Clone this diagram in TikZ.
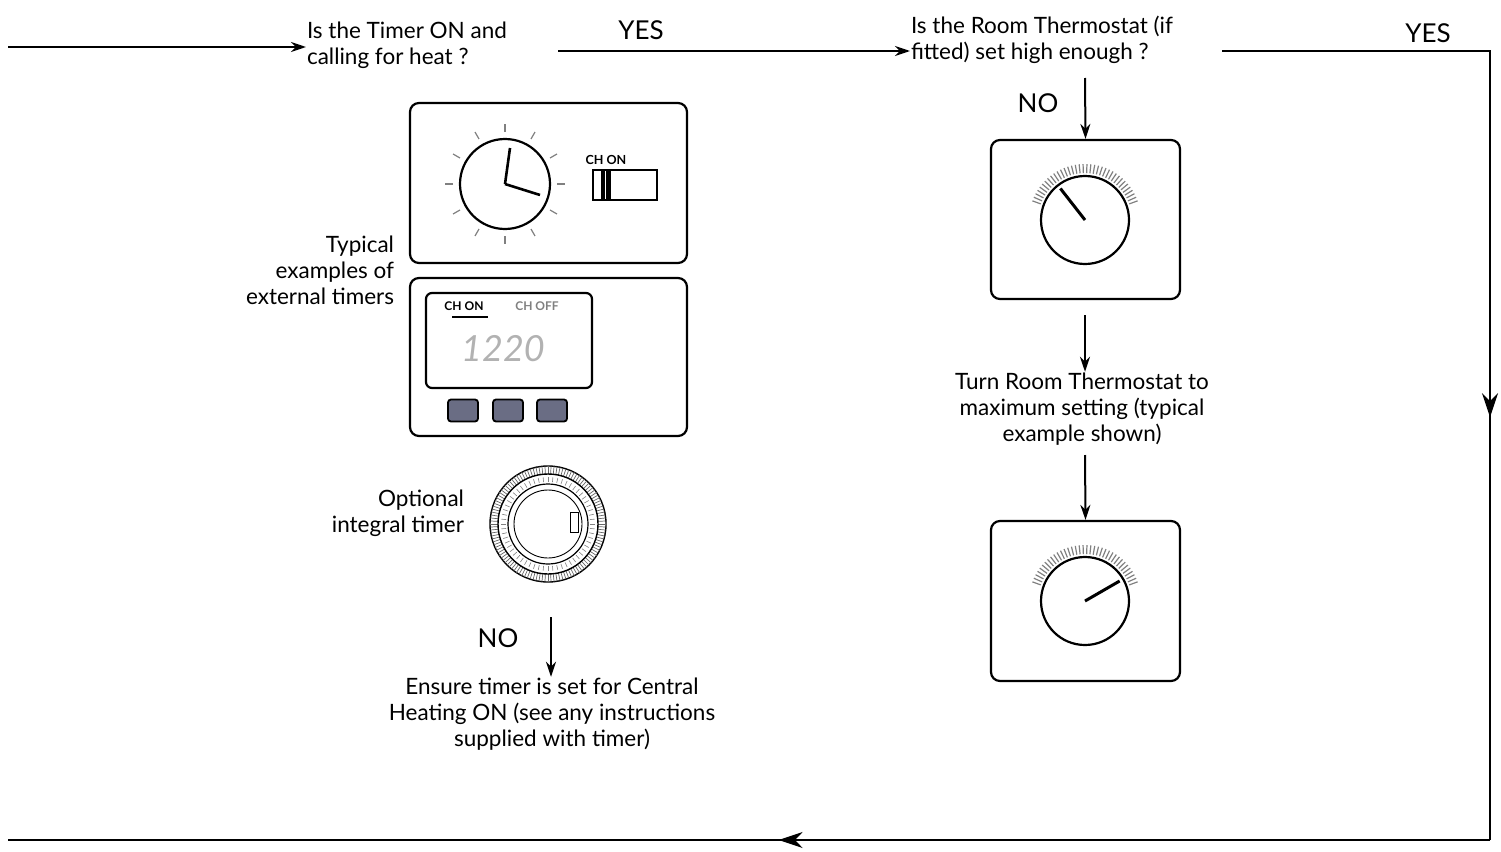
\documentclass[tikz,border=0pt]{standalone}
\usepackage{fontspec}
\setmainfont{Lato}
\usetikzlibrary{arrows.meta,decorations.markings}
\definecolor{btn}{HTML}{6A6D84}
\begin{document}
\begin{tikzpicture}[x=1pt,y=-1pt,font=\fontsize{22.5}{26}\selectfont,
  line width=2pt,
  arr/.style={-{Stealth[length=15pt,width=10pt]}},
  mid/.style={postaction={decorate},decoration={markings,mark=at position #1 with {\arrow{Stealth[length=24pt,width=16pt]}}}},
  txt/.style={inner sep=0pt,align=left,anchor=west},
  big/.style={font=\fontsize{26}{28}\selectfont},
  box/.style={draw,rounded corners=9pt,line width=2.2pt},
  dial/.style={draw,line width=2.2pt}]
\useasboundingbox (0,0) rectangle (1501,851);
% top flow
\coordinate (s) at (8,47);
\node[txt] (q1) at (306,45) {Is the Timer ON and\\calling for heat ?};
\draw[arr] (s) -- (q1.west |- s);
\coordinate (y1a) at (558,51);
\node[txt] (q2) at (910,40) {Is the Room Thermostat (if\\fitted) set high enough ?};
\draw[arr] (y1a) -- (q2.west |- y1a);
\node[big] (yes1) at (641,30) {YES};
\node[big] (yes2) at (1428,33) {YES};
\coordinate (c1) at (1222,51);
\coordinate (c2) at (1490,51);
\coordinate (c3) at (1490,840);
\coordinate (c4) at (8,840);
\draw[mid=0.6] (c1) -- (c2) -- (c3);
\draw[mid=0.48] (c3) -- (c4);
% thermostats
\node[big] (no2) at (1038,103) {NO};
\node[box,minimum width=189pt,minimum height=159pt] (t1) at (1085.5,219.5) {};
\node[box,minimum width=189pt,minimum height=160pt] (t2) at (1085.5,601) {};
\draw[arr] (1085,78) -- (t1.north);
\node[align=center,inner sep=0pt] (turn) at (1082,409) {Turn Room Thermostat to\\maximum setting (typical\\example shown)};
\coordinate (a1) at (1085,315);
\coordinate (a2) at (1085,455);
\draw[arr] (a1) -- (a1 |- turn.north);
\draw[arr] (a2) -- (t2.north);
\foreach \cy/\ang in {220/128, 601/30}{
  \foreach \a in {20,24,...,160}{
    \draw[gray,line width=1.2pt] (1085,\cy) ++(-\a:47) -- ++(-\a:9);
  }
  \draw[dial,fill=white] (1085,\cy) circle (44);
  \draw[line width=3pt] (1085,\cy) -- ({1085+40*cos(\ang)},{\cy-40*sin(\ang)});
}
% timer box 1
\node[box,minimum width=277pt,minimum height=160pt] (b1) at (548.5,183) {};
\draw[dial] (505,184) circle (45);
\foreach \a in {0,30,...,330}{
  \draw[gray,line width=1.2pt] (505,184) ++(\a:52) -- ++(\a:8);
}
\draw[line width=2.6pt] (505,184) -- (510,148);
\draw[line width=2.6pt] (505,184) -- (540,195);
\node[font=\bfseries\fontsize{12.5}{13}\selectfont,inner sep=0pt] (chon1) at (606,160) {CH ON};
\draw[line width=1.6pt] (593,170) rectangle (657,200);
\fill (601,170) rectangle (605,200);
\fill (606,170) rectangle (611,200);
\node[txt,anchor=east,align=right] (typ) at (395,270) {Typical\\examples of\\external timers};
% timer box 2
\node[box,minimum width=277pt,minimum height=158pt] (b2) at (548.5,357) {};
\node[box,rounded corners=6pt,minimum width=166pt,minimum height=95pt] (disp) at (509,340.5) {};
\node[font=\bfseries\fontsize{12}{13}\selectfont,inner sep=0pt] (on2) at (464,306) {CH ON};
\draw[line width=1.4pt] (452,317) -- (488,317);
\node[font=\bfseries\fontsize{12}{13}\selectfont,inner sep=0pt,text=gray] (off2) at (537,306) {CH OFF};
\node[font=\itshape\fontsize{36}{38}\selectfont,text=gray!60,inner sep=0pt] (dig) at (503,349) {1220};
\foreach \x/\n in {463/k1,508/k2,552/k3}{
  \node[draw,fill=btn,rounded corners=3pt,line width=1.8pt,minimum width=30pt,minimum height=22pt] (\n) at (\x,410.5) {};
}
% integral timer
\draw[line width=1.4pt] (548,524) circle (58);
\foreach \a in {0,3,...,357}{\draw[gray!80!black,line width=0.7pt] (548,524) ++(\a:50) -- ++(\a:8);}
\draw[line width=1.4pt] (548,524) circle (50);
\foreach \a in {0,6,...,354}{\draw[gray,line width=0.6pt] (548,524) ++(\a:42) -- ++(\a:5);}
\draw[line width=1.2pt] (548,524) circle (40);
\draw[line width=0.9pt] (548,524) circle (34);
\draw[line width=0.9pt] (570,512) rectangle (578,532);
\node[txt,anchor=east,align=right] (opt) at (465,513) {Optional\\integral timer};
% bottom
\node[big] (no1) at (498,638) {NO};
\node[align=center,inner sep=0pt] (ens) at (552,714) {Ensure timer is set for Central\\Heating ON (see any instructions\\supplied with timer)};
\coordinate (a3) at (551,617);
\draw[arr] (a3) -- (a3 |- ens.north);
\end{tikzpicture}
\end{document}
